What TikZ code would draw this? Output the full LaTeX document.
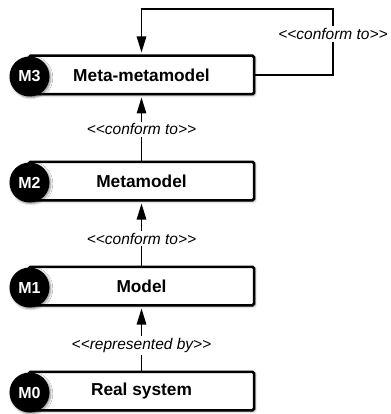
\documentclass[tikz,border=0pt]{standalone}
\usepackage{fontspec}
\setmainfont{Liberation Sans}
\usetikzlibrary{arrows.meta,shadows.blur}
\newcommand\stereo[1]{<\kern0pt<#1>\kern0pt>}
\tikzset{
  levelbox/.style={draw=black, line width=2.5pt, fill=white, rounded corners=1.5pt,
    minimum width=225pt, minimum height=38.5pt, inner sep=0pt,
    font=\fontsize{17.3}{20}\selectfont\bfseries,
    blur shadow={shadow xshift=1.2pt, shadow yshift=-1.2pt, shadow blur steps=4, shadow opacity=45}},
  levelcirc/.style={circle, fill=black, minimum size=40pt, inner sep=0pt, text=white,
    font=\fontsize{16}{18}\selectfont\bfseries,
    blur shadow={shadow xshift=1.2pt, shadow yshift=-1.2pt, shadow blur steps=4, shadow opacity=45}},
  conn/.style={line width=1.4pt, -{Triangle[length=16pt,width=9.5pt]}, shorten >=2pt},
  lbl/.style={fill=white, inner sep=2pt, font=\fontsize{15.5}{18}\selectfont\itshape}
}
\begin{document}
\begin{tikzpicture}[x=1pt,y=-1pt]
\useasboundingbox (0,0) rectangle (390,414);
\node[levelbox] (b3) at (141.5,75) {Meta-metamodel};
\node[levelbox] (b2) at (141.5,181) {Metamodel};
\node[levelbox] (b1) at (141.5,286) {Model};
\node[levelbox] (b0) at (141.5,391) {Real system};
\node[levelcirc] (c3) at (29.5,76.5) {M3};
\node[levelcirc] (c2) at (29.5,182.5) {M2};
\node[levelcirc] (c1) at (29.5,287.5) {M1};
\node[levelcirc] (c0) at (29.5,392.5) {M0};
\draw[conn] (b2.north) -- node[lbl, pos=0.48] {\stereo{conform to}} (b3.south);
\draw[conn] (b1.north) -- node[lbl, pos=0.42] {\stereo{conform to}} (b2.south);
\draw[conn] (b0.north) -- node[lbl, pos=0.39] {\stereo{represented by}} (b1.south);
\coordinate (looptr) at (333,9);
\draw[conn] (b3.east) -| node[lbl, pos=0.81] {\stereo{conform to}} (looptr) -| (b3.north);
\end{tikzpicture}
\end{document}
